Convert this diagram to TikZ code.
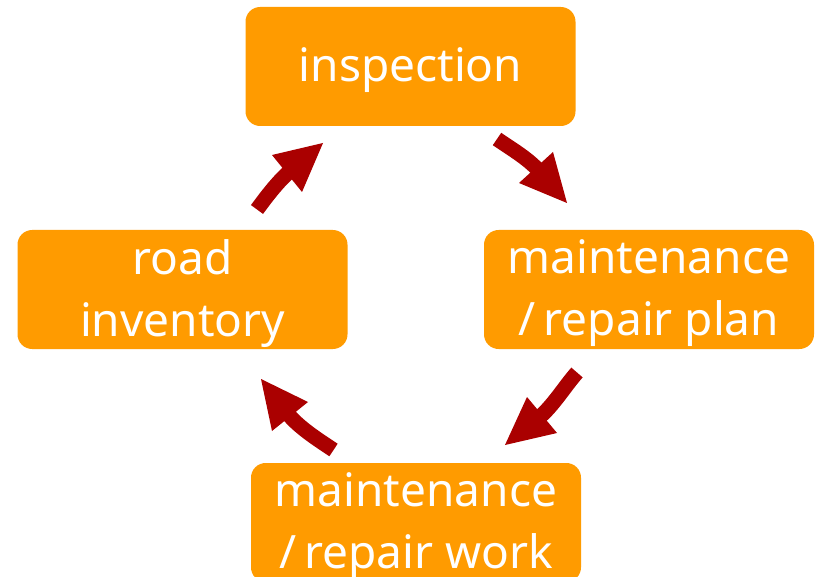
\documentclass[tikz,border=0pt]{standalone}
\usepackage{fontspec}
\setmainfont{Noto Sans}
\usetikzlibrary{arrows.meta}
\definecolor{boxorange}{HTML}{FF9B00}
\definecolor{arrred}{HTML}{AA0000}
\tikzset{
  stepbox/.style={fill=boxorange, draw=none, rounded corners=11pt,
    minimum width=247.5pt, minimum height=89.25pt, inner sep=0pt},
  boxtext/.style={text=white, align=center, inner sep=0pt,
    font=\fontsize{34.5pt}{46.5pt}\selectfont},
  shaft/.style={draw=arrred, line width=11.25pt, line cap=butt},
  head/.style={fill=arrred, draw=none}
}
\newcommand{\fwslash}{/\hspace{6pt}}
\begin{document}
\begin{tikzpicture}[x=0.75pt, y=-0.75pt]
\useasboundingbox (0,0) rectangle (817,577);
\node[stepbox] (insp) at (410.5,66.5) {};
\node[stepbox] (road) at (182.5,289.5) {};
\node[stepbox] (plan) at (649,289.5) {};
\node[stepbox] (work) at (416,522.5) {};
\node[boxtext] (insp-t) at ([yshift=-2.75pt]insp.center) {inspection};
\node[boxtext] (road-t) at ([yshift=-2.75pt]road.center) {road\\inventory};
\node[boxtext] (plan-t) at ([yshift=-2.75pt]plan.center) {maintenance\\\fwslash repair plan};
\node[boxtext] (work-t) at ([yshift=-2.75pt]work.center) {maintenance\\\fwslash repair work};
% arrow 1: inspection -> plan
\coordinate (a1s) at (497,139);
\coordinate (a1b) at (538.5,170.5);
\coordinate (a1l) at (519,183);
\coordinate (a1r) at (553,152);
\coordinate (a1e) at (567,203);
% arrow 2: plan -> work
\coordinate (a2s) at (577,372.5);
\coordinate (a2b) at (539,417.5);
\coordinate (a2l) at (527,397);
\coordinate (a2r) at (557,433);
\coordinate (a2e) at (505,445);
% arrow 3: work -> road
\coordinate (a3s) at (333.5,450);
\coordinate (a3b) at (287.5,413.3);
\coordinate (a3l) at (272,431);
\coordinate (a3r) at (308,402);
\coordinate (a3e) at (261,379);
% arrow 4: road -> inspection
\coordinate (a4s) at (257,209.5);
\coordinate (a4b) at (290,171);
\coordinate (a4l) at (272,155);
\coordinate (a4r) at (302,192);
\coordinate (a4e) at (323,143);
\draw[shaft] (a1s) .. controls +(13,9) and +(-10.5,-12) .. (a1b);
\fill[head] (a1l) -- (a1r) -- (a1e) -- cycle;
\draw[shaft] (a2s) .. controls +(-12,13.5) and +(14,-11.5) .. (a2b);
\fill[head] (a2l) -- (a2r) -- (a2e) -- cycle;
\draw[shaft] (a3s) .. controls +(-15,-10) and +(11,14) .. (a3b);
\fill[head] (a3l) -- (a3r) -- (a3e) -- cycle;
\draw[shaft] (a4s) .. controls +(9.5,-13) and +(-12,10.5) .. (a4b);
\fill[head] (a4l) -- (a4r) -- (a4e) -- cycle;
\end{tikzpicture}
\end{document}
